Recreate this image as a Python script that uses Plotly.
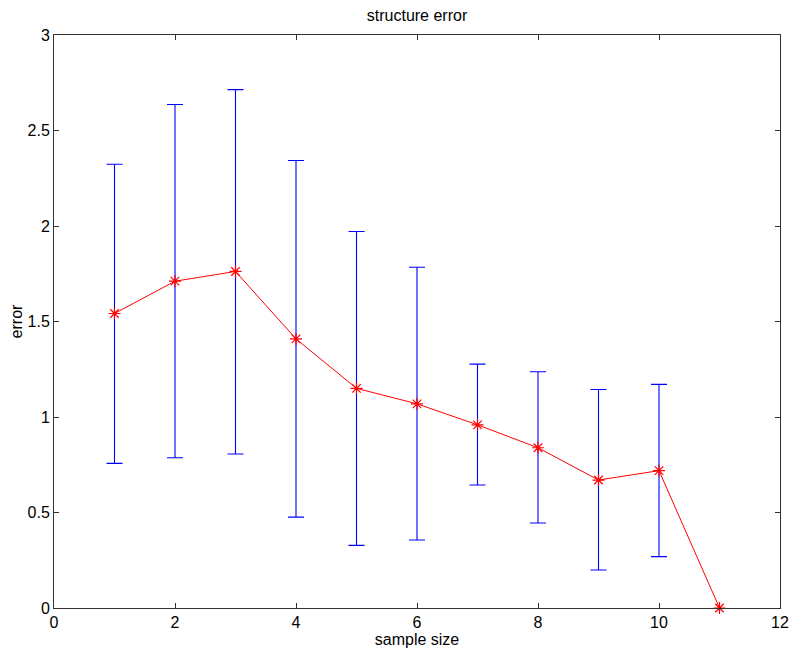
import plotly.graph_objects as go

sample_size = [1, 2, 3, 4, 5, 6, 7, 8, 9, 10, 11]
mean_error = [1.542, 1.711, 1.762, 1.409, 1.150, 1.069, 0.959, 0.839, 0.670, 0.719, 0.0]
upper_bound = [2.323, 2.636, 2.714, 2.343, 1.971, 1.784, 1.277, 1.237, 1.144, 1.171, None]
lower_bound = [0.757, 0.787, 0.806, 0.476, 0.328, 0.356, 0.644, 0.445, 0.199, 0.269, None]

eb_x = [x for x, u in zip(sample_size, upper_bound) if u is not None]
eb_y = [m for m, u in zip(mean_error, upper_bound) if u is not None]
eb_plus = [u - m for m, u in zip(mean_error, upper_bound) if u is not None]
eb_minus = [m - l for m, l in zip(mean_error, lower_bound) if l is not None]

FONT = "Liberation Sans, Arial, Helvetica, sans-serif"

# the page body has an 8px margin, so the figure is sized to fit the 800x662 window
W, H = 792, 654

fig = go.Figure()
fig.add_trace(go.Scatter(
    x=eb_x, y=eb_y, mode="markers",
    marker=dict(size=1, color="rgba(0,0,0,0)"),
    error_y=dict(type="data", symmetric=False, array=eb_plus, arrayminus=eb_minus,
                 color="#0000ff", thickness=1.1, width=8),
    showlegend=False, hoverinfo="skip",
))
fig.add_trace(go.Scatter(
    x=sample_size, y=mean_error, mode="lines+markers",
    line=dict(color="#ff0000", width=1),
    marker=dict(symbol="asterisk", size=10, color="#ff0000", line=dict(color="#ff0000", width=1.2)),
    showlegend=False, cliponaxis=False,
))

axis_common = dict(
    showgrid=False, zeroline=False, showline=True, linecolor="#333333", linewidth=1,
    mirror="ticks", ticks="inside", ticklen=5, tickcolor="#333333", automargin=False,
    tickfont=dict(family=FONT, size=16, color="#000000"),
)
fig.update_layout(
    width=W, height=H,
    paper_bgcolor="white", plot_bgcolor="white",
    margin=dict(l=46, r=20, t=27, b=54),
    title=dict(text="structure error", xref="paper", x=0.5, xanchor="center",
               yref="container", y=1 - 7 / H, yanchor="middle",
               font=dict(family=FONT, size=16, color="#000000")),
    xaxis=dict(range=[0, 12], tickvals=[0, 2, 4, 6, 8, 10, 12],
               title=dict(text="sample size", standoff=2,
                          font=dict(family=FONT, size=16, color="#000000")),
               **axis_common),
    yaxis=dict(range=[0, 3], tickvals=[0, 0.5, 1, 1.5, 2, 2.5, 3],
               ticktext=["0", "0.5", "1", "1.5", "2", "2.5", "3"],
               title=dict(text="error", standoff=4,
                          font=dict(family=FONT, size=16, color="#000000")),
               **axis_common),
)
fig.write_html("out.html")
